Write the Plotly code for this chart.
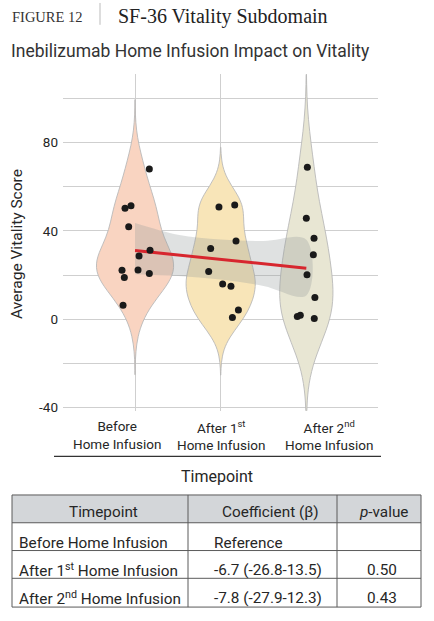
import numpy as np
import plotly.graph_objects as go

# ---------------- data ----------------
categories = ["Before<br>Home Infusion",
              "After 1<sup>st</sup><br>Home Infusion",
              "After 2<sup>nd</sup><br>Home Infusion"]

before = [68.0, 51.4, 50.3, 41.9, 31.2, 28.6, 22.3, 22.2, 20.7, 18.9, 6.4]
before_jitter = [0.167, -0.047, -0.117, -0.074, 0.175, 0.047, 0.035, -0.152, 0.167, -0.125, -0.14]
after1 = [51.8, 50.9, 35.5, 32.1, 21.6, 16.0, 15.0, 4.2, 0.8]
after1_jitter = [0.164, -0.02, 0.179, -0.117, -0.14, 0.023, 0.12, 0.207, 0.137]
after2 = [68.9, 45.8, 36.7, 29.2, 20.2, 9.9, 1.8, 1.2, 0.4]
after2_jitter = [0.012, 0.0, 0.09, 0.082, 0.008, 0.10, -0.07, -0.105, 0.093]

trend_x = [0, 2]
trend_y = [31.1, 23.1]
band_x = [0, 0.5, 1, 1.5, 2]
band_upper = [43.6, 38.3, 36.1, 35.4, 36.0]
band_lower = [20.4, 19.6, 18.0, 15.1, 10.8]

y_tickvals = [-40, 0, 40, 80]
y_ticktext = ["-40", "0", "40", "80"]

table_header = ["Timepoint", "Coefficient (\u03b2)", "<i>p</i>-value"]
table_timepoint = ["Before Home Infusion",
                   "After 1<sup>st</sup> Home Infusion",
                   "After 2<sup>nd</sup> Home Infusion"]
table_coef = ["Reference", "-6.7 (-26.8-13.5)", "-7.8 (-27.9-12.3)"]
table_p = ["", "0.50", "0.43"]

# ---------------- styles ----------------
W, H = 434, 621
def px(x):
    return x / W
def py(y):
    return 1 - y / H

FONT = "Roboto"
SERIF = "Liberation Serif"
TXT = "#262626"
GRID = "#cfcfcf"
violin_fill = ["#f9d4c1", "#f8e5b8", "#e8e6d3"]
bandwidths = [10.5, 8.7, 16.0]
groups = [before, after1, after2]
jitters = [before_jitter, after1_jitter, after2_jitter]

# ggplot-like area scaling: width proportional to max density
maxdens = []
for vals, bw in zip(groups, bandwidths):
    v = np.asarray(vals)
    grid = np.linspace(v.min() - 3 * bw, v.max() + 3 * bw, 600)
    dens = np.exp(-0.5 * ((grid[:, None] - v[None, :]) / bw) ** 2).sum(1) / (len(v) * bw * np.sqrt(2 * np.pi))
    maxdens.append(dens.max())
widths = [0.9 * m / max(maxdens) for m in maxdens]

fig = go.Figure()

for i, (vals, bw) in enumerate(zip(groups, bandwidths)):
    fig.add_trace(go.Violin(
        x0=i, y=vals, orientation="v",
        bandwidth=bw, spanmode="manual",
        span=[min(vals) - 3 * bw, max(vals) + 3 * bw],
        width=widths[i], scalemode="width",
        fillcolor=violin_fill[i], opacity=1,
        line=dict(color="rgba(185,185,185,0.9)", width=1),
        points=False, box_visible=False, meanline_visible=False,
        hoverinfo="skip", showlegend=False,
    ))

# confidence band
fig.add_trace(go.Scatter(
    x=band_x + band_x[::-1], y=band_upper + band_lower[::-1],
    fill="toself", fillcolor="rgba(150,155,155,0.30)",
    line=dict(width=0, shape="spline"), mode="lines",
    hoverinfo="skip", showlegend=False,
))

# trend line
fig.add_trace(go.Scatter(
    x=trend_x, y=trend_y, mode="lines",
    line=dict(color="#d7262e", width=3),
    hoverinfo="skip", showlegend=False,
))

# points
for i, (vals, jit) in enumerate(zip(groups, jitters)):
    fig.add_trace(go.Scatter(
        x=[i + j for j in jit], y=vals, mode="markers",
        marker=dict(color="#1a1a1a", size=7),
        hoverinfo="skip", showlegend=False,
    ))

x_lo, x_hi = -0.841, 2.837
fig.update_layout(
    width=W, height=H,
    margin=dict(l=0, r=0, t=0, b=0),
    paper_bgcolor="white", plot_bgcolor="white",
    violinmode="overlay",
    xaxis=dict(domain=[px(63), px(378)], range=[x_lo, x_hi],
               tickvals=[0, 1, 2], showticklabels=False,
               showgrid=True, gridcolor=GRID, gridwidth=1,
               zeroline=False, showline=False, ticks=""),
    yaxis=dict(domain=[py(414), py(75)], range=[-41.4, 110.9],
               tickvals=y_tickvals, ticktext=y_ticktext,
               minor=dict(tick0=0, dtick=20, showgrid=True, gridcolor=GRID, gridwidth=1, ticks=""),
               showgrid=True, gridcolor=GRID, gridwidth=1,
               zeroline=False, showline=False, ticks="",
               ticklabelstandoff=4,
               tickfont=dict(family=FONT, size=13.5, color=TXT)),
    font=dict(family=FONT, color=TXT),
)

annotations = [
    dict(text="FIGURE 12", x=px(10), y=py(17), xanchor="left", yanchor="middle",
         font=dict(family=SERIF, size=14.5, color="#333333")),
    dict(text="SF-36 Vitality Subdomain", x=px(116), y=py(17), xanchor="left", yanchor="middle",
         font=dict(family=SERIF, size=20, color="#222222")),
    dict(text="Inebilizumab Home Infusion Impact on Vitality", x=px(9), y=py(51),
         xanchor="left", yanchor="middle",
         font=dict(family=FONT, size=17.5, color="#333333")),
    dict(text="Average Vitality Score", x=px(17), y=py(246), textangle=-90,
         xanchor="center", yanchor="middle",
         font=dict(family=FONT, size=15.5, color=TXT)),
    dict(text="Timepoint", x=px(217), y=py(480), xanchor="center", yanchor="middle",
         font=dict(family=FONT, size=16, color=TXT)),
]
label_x = [117, 221, 329]
for lx, lab in zip(label_x, categories):
    annotations.append(dict(text=lab, x=px(lx), y=py(439), xanchor="center", yanchor="middle",
                            font=dict(family=FONT, size=13.5, color=TXT)))

# ---- table (drawn with shapes + annotations) ----
tbl_left, tbl_right = 12, 421
col_edges = [12, 188, 337, 421]
row_edges = [499, 527, 555, 583, 612]
header_x = [103, 270, 383]
row_y = [547, 575, 603]
col_text_x = [17, 212, 382]
col_anchor = ["left", "left", "center"]
tfont = dict(family=FONT, size=15.3, color=TXT)

for hx, htxt in zip(header_x, table_header):
    annotations.append(dict(text=htxt, x=px(hx), y=py(516), xanchor="center", yanchor="middle", font=tfont))
for c, col in enumerate([table_timepoint, table_coef, table_p]):
    for r, val in enumerate(col):
        if val:
            annotations.append(dict(text=val, x=px(col_text_x[c]), y=py(row_y[r]),
                                    xanchor=col_anchor[c], yanchor="middle", font=tfont))

for a in annotations:
    a.update(xref="paper", yref="paper", showarrow=False)
fig.update_layout(annotations=annotations)

tline = dict(color="#5a5a5a", width=1)
shapes = [
    dict(type="line", x0=px(100), x1=px(100), y0=py(3), y1=py(25),
         line=dict(color="#bbbbbb", width=1)),
    dict(type="line", x0=px(54), x1=px(381), y0=py(460), y1=py(460),
         line=dict(color="#333333", width=1.2)),
    dict(type="rect", x0=px(tbl_left), x1=px(tbl_right), y0=py(row_edges[0]), y1=py(row_edges[1]),
         fillcolor="#d3d6d9", line=dict(width=0), layer="below"),
]
for ry in row_edges:
    shapes.append(dict(type="line", x0=px(tbl_left), x1=px(tbl_right), y0=py(ry), y1=py(ry), line=tline))
for cx in col_edges:
    shapes.append(dict(type="line", x0=px(cx), x1=px(cx), y0=py(row_edges[0]), y1=py(row_edges[-1]), line=tline))
for s in shapes:
    s.update(xref="paper", yref="paper")
fig.update_layout(shapes=shapes)

fig.write_html("out.html")
